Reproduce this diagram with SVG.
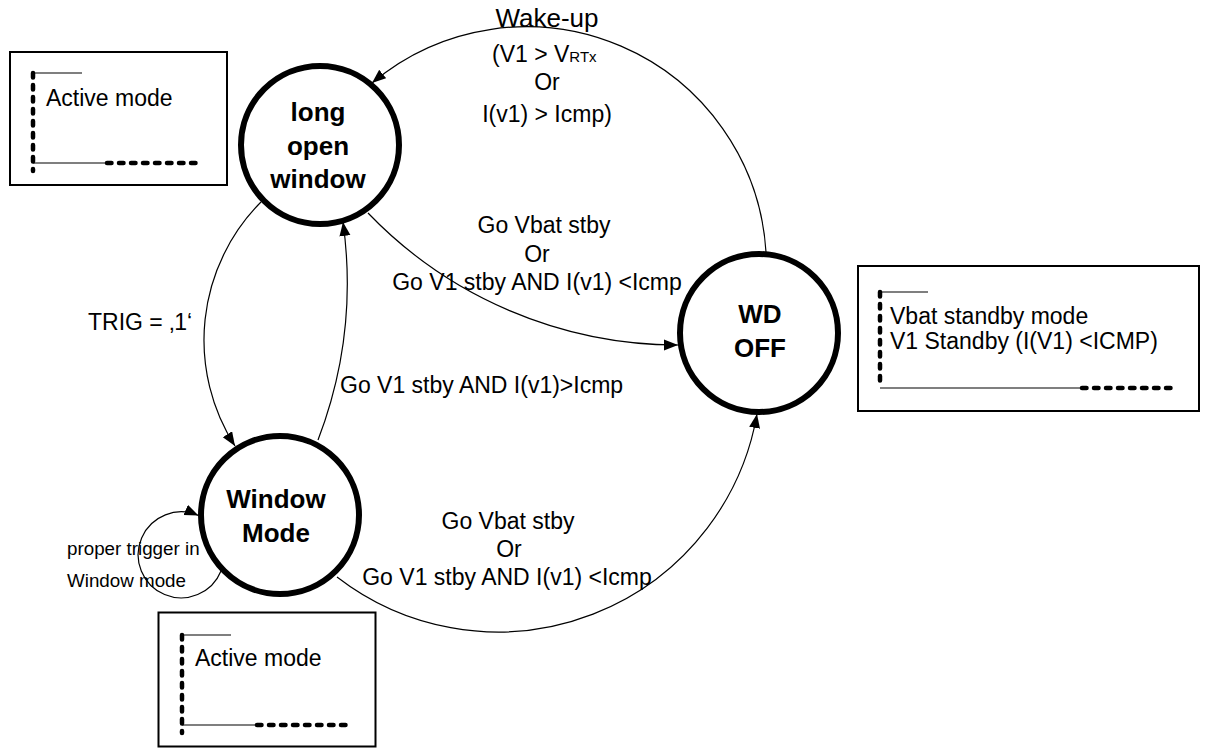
<svg xmlns="http://www.w3.org/2000/svg" width="1205" height="749" viewBox="0 0 1205 749">
  <style>
    .txt { font-family: "Liberation Sans", Arial, sans-serif; font-size: 23px; fill: #000; }
    .small { font-size: 18.8px; }
    .node-label { font-family: "Liberation Sans", Arial, sans-serif; font-size: 26px; font-weight: bold; fill: #000; text-anchor: middle; }
    .mid { text-anchor: middle; }
    .state { fill: #fff; stroke: #000; stroke-width: 6; }
    .edge { fill: none; stroke: #000; stroke-width: 1.2; marker-end: url(#arrow); }
    .frame { fill: #fff; stroke: #000; stroke-width: 2; }
    .thin { fill: none; stroke: #000; stroke-width: 1.2; }
    .thick-dash { fill: none; stroke: #000; stroke-width: 4.5; stroke-linecap: round; stroke-dasharray: 4.5 7.5; }
  </style>
  <defs>
    <marker id="arrow" markerUnits="userSpaceOnUse" markerWidth="15" markerHeight="12" refX="14" refY="5.5" orient="auto">
      <path d="M0,0 L14,5.5 L0,11 z" fill="#000"/>
    </marker>
  </defs>

  <rect width="1205" height="749" fill="#fff"/>

  <!-- mode legend boxes -->
  <g id="box-active-top">
    <rect class="frame" x="10" y="52" width="217" height="133"/>
    <path class="thin" d="M33,73 H82 M33,163 H105"/>
    <path class="thick-dash" d="M33,73 V171 M107,163 H203"/>
    <text class="txt" x="46" y="106">Active mode</text>
  </g>
  <g id="box-standby">
    <rect class="frame" x="858" y="266" width="341" height="145"/>
    <path class="thin" d="M880,292 H928 M880,388 H1080"/>
    <path class="thick-dash" d="M880,292 V388 M1082,388 H1178"/>
    <text class="txt" x="890" y="324">Vbat standby mode</text>
    <text class="txt" x="890" y="349">V1 Standby (I(V1) &lt;ICMP)</text>
  </g>
  <g id="box-active-bottom">
    <rect class="frame" x="158.5" y="612.5" width="217" height="134"/>
    <path class="thin" d="M182,635 H231 M182,725 H255"/>
    <path class="thick-dash" d="M182,635 V733 M257,725 H352"/>
    <text class="txt" x="195" y="666">Active mode</text>
  </g>

  <!-- transitions -->
  <g id="connectors">
    <path id="e-wakeup" class="edge" d="M766,252 A240,240 0 0 0 372,83"/>
    <path id="e-low-wd" class="edge" d="M368,213 A430,430 0 0 0 678,345"/>
    <path id="e-trig" class="edge" d="M261,202 A196,196 0 0 0 235,446"/>
    <path id="e-wm-low" class="edge" d="M318,440 A440,440 0 0 0 343,222"/>
    <path id="e-wm-wd" class="edge" d="M337,577 A263,263 0 0 0 757,414"/>
    <path id="e-self" class="edge" d="M221,571 A43,43 0 1 1 198.5,515.5"/>
  </g>

  <!-- transition labels -->
  <g id="labels">
    <text class="txt mid" x="547" y="27" style="font-size:26px">Wake-up</text>
    <text class="txt" x="492" y="62">(V1 &gt; V<tspan style="font-size:15px">RTx</tspan></text>
    <text class="txt mid" x="547" y="90">Or</text>
    <text class="txt mid" x="547" y="122">I(v1) &gt; Icmp)</text>

    <text class="txt mid" x="544" y="233">Go Vbat stby</text>
    <text class="txt mid" x="537" y="262">Or</text>
    <text class="txt mid" x="537" y="290">Go V1 stby AND I(v1) &lt;Icmp</text>

    <text class="txt" x="88" y="330">TRIG = ‚1‘</text>

    <text class="txt" x="340" y="393">Go V1 stby AND I(v1)&gt;Icmp</text>

    <text class="txt mid" x="508" y="529">Go Vbat stby</text>
    <text class="txt mid" x="509" y="557">Or</text>
    <text class="txt mid" x="507" y="585">Go V1 stby AND I(v1) &lt;Icmp</text>

    <text class="txt small" x="67" y="555">proper trigger in</text>
    <text class="txt small" x="67" y="587">Window mode</text>
  </g>

  <!-- states -->
  <g id="node-long-open-window">
    <circle class="state" cx="320" cy="145" r="79"/>
    <text class="node-label" x="318" y="121">long</text>
    <text class="node-label" x="318" y="155">open</text>
    <text class="node-label" x="318" y="188">window</text>
  </g>
  <g id="node-wd-off">
    <circle class="state" cx="759" cy="333" r="79"/>
    <text class="node-label" x="760" y="323">WD</text>
    <text class="node-label" x="760" y="357">OFF</text>
  </g>
  <g id="node-window-mode">
    <circle class="state" cx="280" cy="515" r="79"/>
    <text class="node-label" x="276" y="508">Window</text>
    <text class="node-label" x="276" y="542">Mode</text>
  </g>
</svg>
